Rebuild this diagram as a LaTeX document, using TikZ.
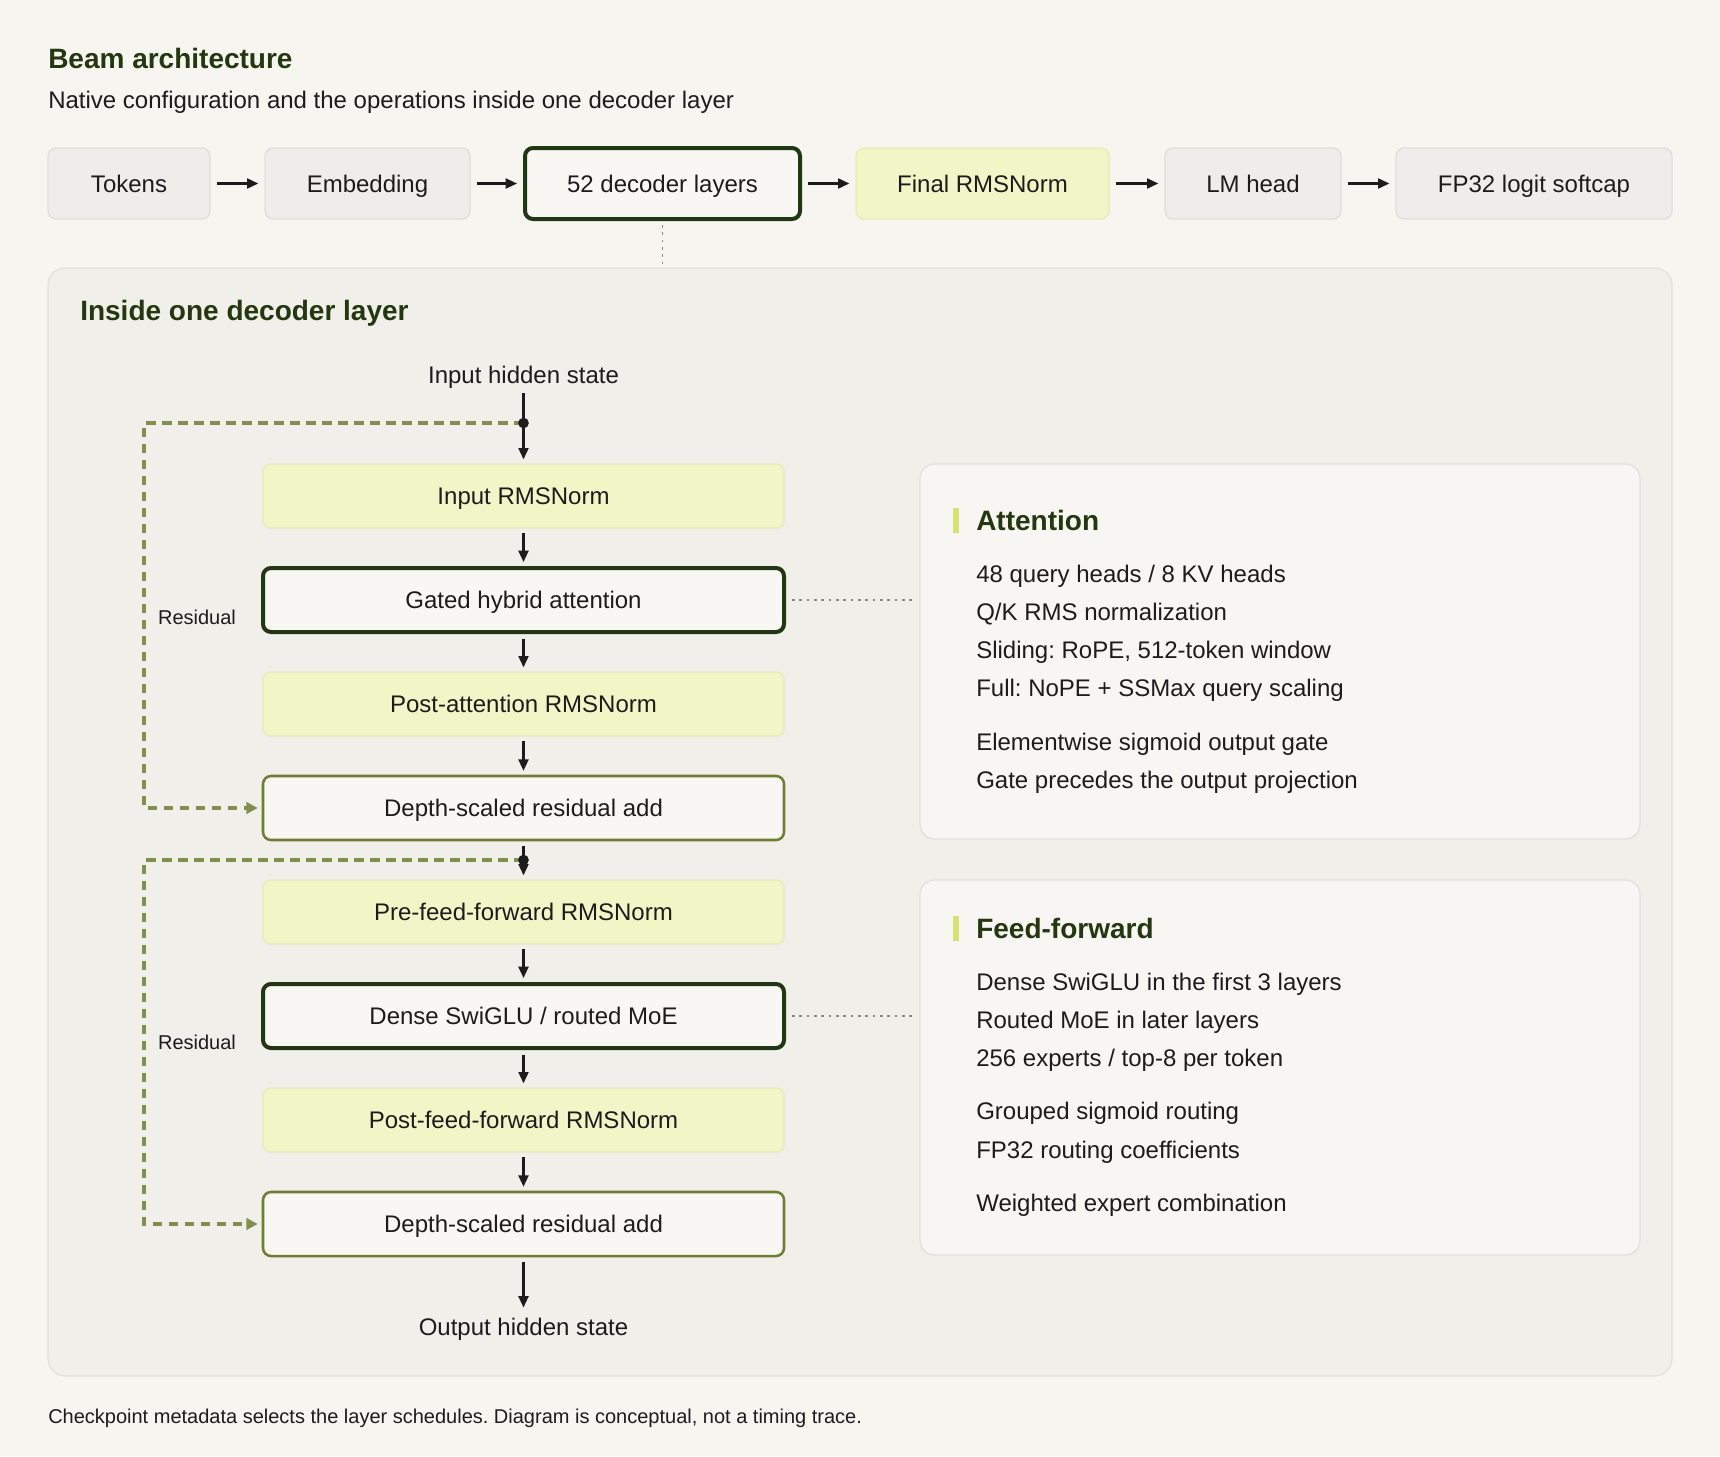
\documentclass[tikz,border=0pt]{standalone}
\usepackage{fontspec}
\setmainfont{Liberation Sans}
\usetikzlibrary{arrows.meta,calc}
\frenchspacing
\definecolor{bg}{HTML}{F6F5F0}
\definecolor{panelfill}{HTML}{F0EFEA}
\definecolor{paneledge}{HTML}{E2E1DB}
\definecolor{sidefill}{HTML}{F7F6F2}
\definecolor{grayfill}{HTML}{EEEDE9}
\definecolor{grayedge}{HTML}{DFDED9}
\definecolor{yelfill}{HTML}{F1F6C6}
\definecolor{yeledge}{HTML}{E6ECB6}
\definecolor{darkedge}{HTML}{1F3713}
\definecolor{oliveedge}{HTML}{6E7F33}
\definecolor{boxfill}{HTML}{F8F7F3}
\definecolor{heading}{HTML}{23380F}
\definecolor{accent}{HTML}{D6E36F}
\definecolor{resid}{HTML}{7F8F4C}
\definecolor{dotgray}{HTML}{8A8A85}
\definecolor{ink}{HTML}{1C1C1C}
\begin{document}
\frenchspacing
\begin{tikzpicture}[x=0.75pt,y=-0.75pt,
  base/.style={rounded corners=6pt, align=center, font=\fontsize{18}{21}\selectfont, text=ink, inner sep=0pt, text height=12.9pt, text depth=0pt},
  graybox/.style={base, draw=grayedge, fill=grayfill, line width=1pt},
  yelbox/.style={base, draw=yeledge, fill=yelfill, line width=1pt},
  darkbox/.style={base, draw=darkedge, fill=boxfill, line width=3pt},
  olivebox/.style={base, draw=oliveedge, fill=boxfill, line width=1.9pt},
  colbox/.style={minimum width=390.75pt, minimum height=48pt},
  toprow/.style={minimum height=53.25pt},
  sidepanel/.style={draw=paneledge, fill=sidefill, line width=1pt, rounded corners=11pt, minimum width=540pt, minimum height=281.25pt, inner sep=0pt},
  bigpanel/.style={draw=paneledge, fill=panelfill, line width=1pt, rounded corners=13pt, minimum width=1218pt, minimum height=831pt, inner sep=0pt},
  arr/.style={draw=ink, line width=1.6pt, -{Triangle[length=8.5pt,width=7.5pt]}},
  toparr/.style={arr, shorten <=4.5pt, shorten >=4.5pt},
  colarr/.style={arr, shorten <=3.5pt, shorten >=3pt},
  res/.style={draw=resid, line width=2.3pt, dash pattern=on 7pt off 5pt, -{Triangle[length=8.5pt,width=8.5pt,fill=resid]}, shorten >=3pt},
  dotline/.style={draw=dotgray, line width=1.2pt, dash pattern=on 2pt off 3.5pt},
  hdr/.style={font=\fontsize{21}{24}\selectfont\bfseries, text=heading, anchor=west, inner sep=0pt, text height=15pt, text depth=0pt},
  body/.style={font=\fontsize{18}{21}\selectfont, text=ink, anchor=west, inner sep=0pt, text height=12.9pt, text depth=0pt},
  small/.style={font=\fontsize{15}{18}\selectfont, text=ink, inner sep=0pt, text height=10.7pt, text depth=0pt},
  junction/.style={circle, fill=ink, inner sep=0pt, minimum size=8pt}
]
\useasboundingbox (0,0) rectangle (1720,1456);
\fill[bg] (0,0) rectangle (1720,1456);

% titles
\node[hdr] (title) at (48,58) {Beam architecture};
\node[body] (subtitle) at (48,100) {Native configuration and the operations inside one decoder layer};

% big panel
\node[bigpanel] (layer) at (860,822) {};
\node[hdr] (layertitle) at (80,310) {Inside one decoder layer};

% top row
\node[graybox, toprow, minimum width=121.5pt] (tok) at (129,183.5) {Tokens};
\node[graybox, toprow, minimum width=153.75pt] (emb) at (367.5,183.5) {Embedding};
\node[darkbox, toprow, minimum width=206.25pt] (dec) at (662.5,183.5) {52 decoder layers};
\node[yelbox, toprow, minimum width=189.75pt] (fin) at (982.5,183.5) {Final RMSNorm};
\node[graybox, toprow, minimum width=132pt] (lmh) at (1253,183.5) {LM head};
\node[graybox, toprow, minimum width=207pt] (fp) at (1534,183.5) {FP32 logit softcap};
\draw[toparr] (tok) -- (emb);
\draw[toparr] (emb) -- (dec);
\draw[toparr] (dec) -- (fin);
\draw[toparr] (fin) -- (lmh);
\draw[toparr] (lmh) -- (fp);
\draw[dotline, shorten <=3pt] (dec.south) -- (dec.south |- layer.north);

% left column
\node[body, anchor=center] (inhs) at (523.5,375) {Input hidden state};
\node[yelbox, colbox] (inrms) at (523.5,496) {Input RMSNorm};
\node[darkbox, colbox] (gated) at (523.5,600) {Gated hybrid attention};
\node[yelbox, colbox] (postattn) at (523.5,704) {Post-attention RMSNorm};
\node[olivebox, colbox] (add1) at (523.5,808) {Depth-scaled residual add};
\node[yelbox, colbox] (preff) at (523.5,912) {Pre-feed-forward RMSNorm};
\node[darkbox, colbox] (dense) at (523.5,1016) {Dense SwiGLU / routed MoE};
\node[yelbox, colbox] (postff) at (523.5,1120) {Post-feed-forward RMSNorm};
\node[olivebox, colbox] (add2) at (523.5,1224) {Depth-scaled residual add};
\node[body, anchor=center] (ouths) at (523.5,1327) {Output hidden state};

\coordinate (j1) at (523.5,423);
\coordinate (j2) at (523.5,860);

% residual connectors
\draw[res] (j1) -- ++(-379.5,0) |- (add1.west);
\draw[res] (j2) -- ++(-379.5,0) |- (add2.west);
\node[small] (res1) at (197,617) {Residual};
\node[small] (res2) at (197,1042) {Residual};

% main flow arrows
\draw[colarr, shorten <=7pt] (inhs.south) -- (inrms.north);
\draw[colarr] (inrms) -- (gated);
\draw[colarr] (gated) -- (postattn);
\draw[colarr] (postattn) -- (add1);
\draw[colarr] (add1) -- (preff);
\draw[colarr] (preff) -- (dense);
\draw[colarr] (dense) -- (postff);
\draw[colarr] (postff) -- (add2);
\draw[colarr, shorten >=8pt] (add2.south) -- (ouths.north);
\node[junction] (dot1) at (j1) {};
\node[junction] (dot2) at (j2) {};

% side panels
\node[sidepanel] (attn) at (1280,651.5) {};
\node[sidepanel] (ff) at (1280,1067.5) {};
\draw[dotline, shorten <=4.5pt, shorten >=4pt] (gated.east) -- (gated.east -| attn.west);
\draw[dotline, shorten <=4.5pt, shorten >=4pt] (dense.east) -- (dense.east -| ff.west);

\fill[accent] (953,508) rectangle (959,533);
\node[hdr] (attnhdr) at (976,520) {Attention};
\node[body] (a1) at (976,574) {48 query heads / 8 KV heads};
\node[body] (a2) at (976,612) {Q/K RMS normalization};
\node[body] (a3) at (976,650) {Sliding: RoPE, 512-token window};
\node[body] (a4) at (976,688) {Full: NoPE + SSMax query scaling};
\node[body] (a5) at (976,742) {Elementwise sigmoid output gate};
\node[body] (a6) at (976,780) {Gate precedes the output projection};

\fill[accent] (953,916) rectangle (959,941);
\node[hdr] (ffhdr) at (976,928) {Feed-forward};
\node[body] (f1) at (976,982) {Dense SwiGLU in the first 3 layers};
\node[body] (f2) at (976,1020) {Routed MoE in later layers};
\node[body] (f3) at (976,1058) {256 experts / top-8 per token};
\node[body] (f4) at (976,1111) {Grouped sigmoid routing};
\node[body] (f5) at (976,1150) {FP32 routing coefficients};
\node[body] (f6) at (976,1203) {Weighted expert combination};

% footnote
\node[small, anchor=west] (foot) at (48,1416) {Checkpoint metadata selects the layer schedules. Diagram is conceptual, not a timing trace.};
\end{tikzpicture}
\end{document}
